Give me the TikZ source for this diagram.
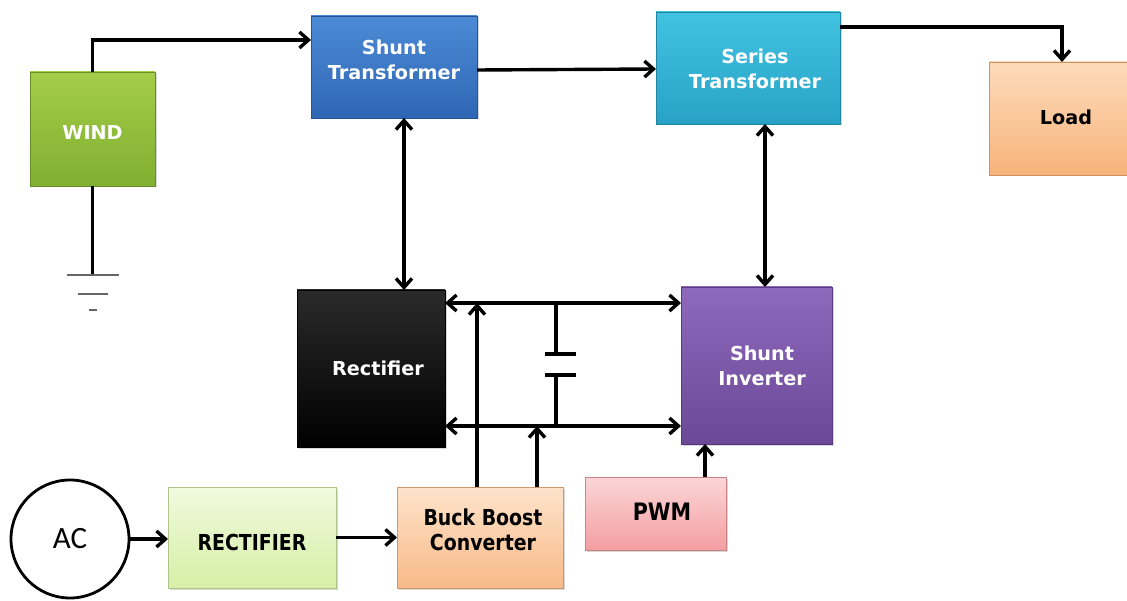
\documentclass[tikz,border=0pt]{standalone}
\usepackage{fontspec}
\setmainfont{DejaVu Sans}
\newfontfamily\dvcond[FakeStretch=0.86]{DejaVu Sans}
\newfontfamily\acfont{Carlito}
\usetikzlibrary{arrows.meta,shadows,calc}

\begin{document}
\begin{tikzpicture}[x=1pt,y=-1pt,
  every node/.style={inner sep=0pt, outer sep=0pt},
  blk/.style n args={2}{draw=#2!82!black, line width=0.6pt,
    top color=#1, bottom color=#2,
    drop shadow={opacity=0.3, shadow xshift=1.5pt, shadow yshift=-1.5pt}},
  hi/.style={text=#1, align=center, font=\bfseries\fontsize{19.2}{25}\selectfont},
  lo/.style={text=black, align=center, font=\dvcond\bfseries\fontsize{22}{25}\selectfont},
  wire/.style={line width=3.4pt, black},
  tip/.tip={Straight Barb[length=9pt,width=16pt]},
  arr/.style={wire, -tip},
  darr/.style={wire, tip-tip},
  gnd/.style={line width=2pt, gray!80!black},
]
\definecolor{windT}{HTML}{A4CD48}\definecolor{windB}{HTML}{80AF31}
\definecolor{shT}{HTML}{4C8BD6}\definecolor{shB}{HTML}{2F66B3}
\definecolor{seT}{HTML}{42C3E2}\definecolor{seB}{HTML}{27A2C6}
\definecolor{ldT}{HTML}{FDDBBB}\definecolor{ldB}{HTML}{F8B37A}
\definecolor{rcT}{HTML}{2A2A2A}\definecolor{rcB}{HTML}{000000}
\definecolor{ivT}{HTML}{8E69BC}\definecolor{ivB}{HTML}{6C4898}
\definecolor{r2T}{HTML}{F0FADF}\definecolor{r2B}{HTML}{D6EFA6}
\definecolor{bbT}{HTML}{FDE3CA}\definecolor{bbB}{HTML}{F8BA88}
\definecolor{pwT}{HTML}{FBD6D6}\definecolor{pwB}{HTML}{F49EA2}

\fill[white] (0,0) rectangle (1127,601);
\useasboundingbox (0,0) rectangle (1127,601);

% blocks, each with its caption as a centred label
\node[blk={windT}{windB}, minimum width=125pt, minimum height=114pt,
  label={[hi=white, yshift=-4pt]center:WIND}] (wind) at (92.5,129) {};
\node[blk={shT}{shB}, minimum width=166pt, minimum height=102pt,
  label={[hi=white, yshift=7.5pt]center:Shunt\\Transformer}] (shT) at (394,67) {};
\node[blk={seT}{seB}, minimum width=184pt, minimum height=112pt,
  label={[hi=white, xshift=7pt, yshift=-0.5pt]center:Series\\Transformer}] (serT) at (748,68) {};
\node[blk={ldT}{ldB}, minimum width=146pt, minimum height=113pt,
  label={[hi=black, xshift=4pt, yshift=1.5pt]center:Load}] (load) at (1062,118.5) {};
\node[blk={rcT}{rcB}, minimum width=148pt, minimum height=157pt,
  label={[hi=white, xshift=7pt]center:Rectifier}] (rect) at (371,368.5) {};
\node[blk={ivT}{ivB}, minimum width=151pt, minimum height=157pt,
  label={[hi=white, xshift=5.5pt]center:Shunt\\Inverter}] (inv) at (756.5,365.5) {};
\node[circle, draw, line width=2.8pt, minimum size=118pt,
  font=\acfont\fontsize{31}{31}\selectfont] (ac) at (70,539) {AC};
\node[blk={r2T}{r2B}, minimum width=168pt, minimum height=101pt,
  label={[lo, yshift=-4.5pt]center:RECTIFIER}] (rect2) at (252,537.5) {};
\node[blk={bbT}{bbB}, minimum width=166pt, minimum height=101pt,
  label={[lo, xshift=3pt, yshift=8pt]center:Buck Boost\\Converter}] (bb) at (480,537.5) {};
\node[blk={pwT}{pwB}, minimum width=141pt, minimum height=73pt,
  label={[lo, font=\dvcond\bfseries\fontsize{24}{26}\selectfont, xshift=6.5pt, yshift=1.5pt]center:PWM}] (pwm) at (655.5,513.5) {};

% helper positions
\coordinate (gnd) at (92.5,275);
\coordinate (xs) at (404,0);
\coordinate (xv) at (765,0);
\coordinate (busT) at (0,303);
\coordinate (busB) at (0,426);
\coordinate (xb1) at (477,0);
\coordinate (xb2) at (537,0);
\coordinate (xp) at (705,0);
\coordinate (xc) at (556,0);
\coordinate (capT) at (556,354);
\coordinate (capB) at (556,375);

% top row
\draw[arr] (wind.north) |- ($(shT.north west)!0.235!(shT.south west)$);
\draw[arr] ($(shT.east)+(0,3)$) -- ($(serT.west)+(0,1)$);
\draw[arr] ($(serT.north east)!0.134!(serT.south east)$) -| (load.north);

% ground
\draw[wire] (wind.south) -- (gnd);
\draw[gnd] ($(gnd)+(-26,0)$) -- ($(gnd)+(26,0)$);
\draw[gnd] ($(gnd)+(-15,19)$) -- ($(gnd)+(15,19)$);
\draw[gnd] ($(gnd)+(-4,35)$) -- ($(gnd)+(4,35)$);

% transformer links
\draw[darr] (shT.south -| xs) -- (rect.north -| xs);
\draw[darr] (serT.south -| xv) -- (inv.north -| xv);

% dc link
\draw[darr] (rect.east |- busT) -- (inv.west |- busT);
\draw[darr] (rect.east |- busB) -- (inv.west |- busB);
\draw[wire] (xc |- busT) -- (capT);
\draw[wire] (capB) -- (xc |- busB);
\draw[wire] ($(capT)+(-11,0)$) -- ($(capT)+(20,0)$);
\draw[wire] ($(capB)+(-11,0)$) -- ($(capB)+(20,0)$);

% converter feeds
\draw[arr] (bb.north -| xb1) -- (xb1 |- busT);
\draw[arr] (bb.north -| xb2) -- (xb2 |- busB);
\draw[arr] (pwm.north -| xp) -- (inv.south -| xp);

% bottom chain
\draw[arr] (ac.east) -- (ac.east -| rect2.west);
\draw[arr] (rect2.east) -- (bb.west);
\end{tikzpicture}
\end{document}
